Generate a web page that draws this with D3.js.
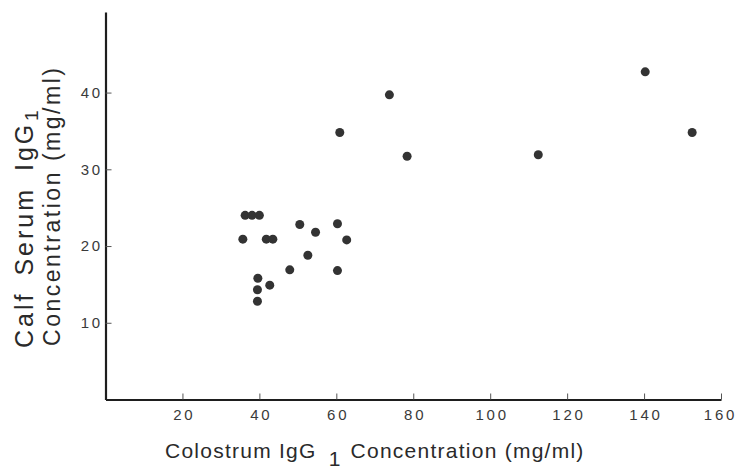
<!DOCTYPE html>
<html>
<head>
<meta charset="utf-8">
<script src="https://cdn.jsdelivr.net/npm/d3@7"></script>
<style>
  body { margin: 0; background: #fff; }
  svg { display: block; }
  .tick text { font-family: "Liberation Sans", Arial, sans-serif; font-size: 15px; letter-spacing: 2.8px; fill: #3a3a3a; }
  .axis-title { font-family: "Liberation Sans", Arial, sans-serif; fill: #2a2a2a; }
</style>
</head>
<body>
<svg id="chart" width="738" height="469"></svg>
<script>
// Colostrum IgG1 (mg/ml) fed to each calf and the calf's resulting serum IgG1 (mg/ml)
const colostrumIgG1 = [35.7, 36.3, 38.1, 40.0, 41.8, 43.5, 50.5, 54.6, 60.3, 62.7, 52.6, 47.9, 60.3, 39.6, 42.7, 39.5, 39.5, 60.9, 73.8, 78.4, 112.5, 140.3, 152.5];
const serumIgG1     = [20.9, 24.0, 24.0, 24.0, 20.9, 20.9, 22.8, 21.8, 22.9, 20.8, 18.8, 16.9, 16.8, 15.8, 14.9, 14.3, 12.8, 34.8, 39.7, 31.7, 31.9, 42.7, 34.8];

const xTicks = [20, 40, 60, 80, 100, 120, 140, 160];
const yTicks = [10, 20, 30, 40];

const points = colostrumIgG1.map((c, i) => ({ colostrum: c, serum: serumIgG1[i] }));

const svg = d3.select("#chart");

const x = d3.scaleLinear().domain([0, 160]).range([105.5, 721]);
const y = d3.scaleLinear().domain([0, 50.5]).range([399.5, 12]);

// x axis: ticks point up into the plot
const xAxis = svg.append("g")
  .attr("transform", `translate(0,${y(0)})`)
  .call(d3.axisBottom(x).tickValues(xTicks).tickSizeInner(-6).tickSizeOuter(0).tickPadding(10));

// y axis: ticks point right into the plot
const yAxis = svg.append("g")
  .attr("transform", `translate(${x(0)},0)`)
  .call(d3.axisLeft(y).tickValues(yTicks).tickSizeInner(-6).tickSizeOuter(0).tickPadding(2.5));

[xAxis, yAxis].forEach(g => {
  g.select(".domain").attr("stroke", "#1e1e1e").attr("stroke-width", 2.2);
  g.selectAll(".tick line").attr("stroke", "#555").attr("stroke-width", 1);
});
// centre the spaced-out digits on their ticks; keep the last one inside the frame
xAxis.selectAll(".tick text").attr("dx", d => d === 160 ? "-1px" : "1.4px");

// data points
svg.append("g")
  .selectAll("circle")
  .data(points)
  .join("circle")
  .attr("cx", d => x(d.colostrum))
  .attr("cy", d => y(d.serum))
  .attr("r", 4.5)
  .attr("fill", "#333");

// x axis title with subscript
const xTitle = svg.append("text")
  .attr("class", "axis-title")
  .attr("x", 165)
  .attr("y", 458)
  .attr("font-size", 21)
  .attr("letter-spacing", "1.25px");
xTitle.append("tspan").text("Colostrum IgG");
xTitle.append("tspan").attr("dx", 12).attr("dy", 8).text("1");
xTitle.append("tspan").attr("dx", 9).attr("dy", -8).text("Concentration (mg/ml)");

// y axis title, two rotated lines
svg.append("text")
  .attr("class", "axis-title")
  .attr("transform", "translate(33,348) rotate(-90)")
  .attr("font-size", 25)
  .attr("letter-spacing", "3px")
  .attr("word-spacing", "6px")
  .text("Calf Serum IgG");

svg.append("text")
  .attr("class", "axis-title")
  .attr("transform", "translate(38,121) rotate(-90)")
  .attr("font-size", 19)
  .text("1");

svg.append("text")
  .attr("class", "axis-title")
  .attr("transform", "translate(60,346) rotate(-90)")
  .attr("font-size", 23)
  .attr("textLength", 278)
  .attr("lengthAdjust", "spacing")
  .text("Concentration (mg/ml)");
</script>
</body>
</html>
